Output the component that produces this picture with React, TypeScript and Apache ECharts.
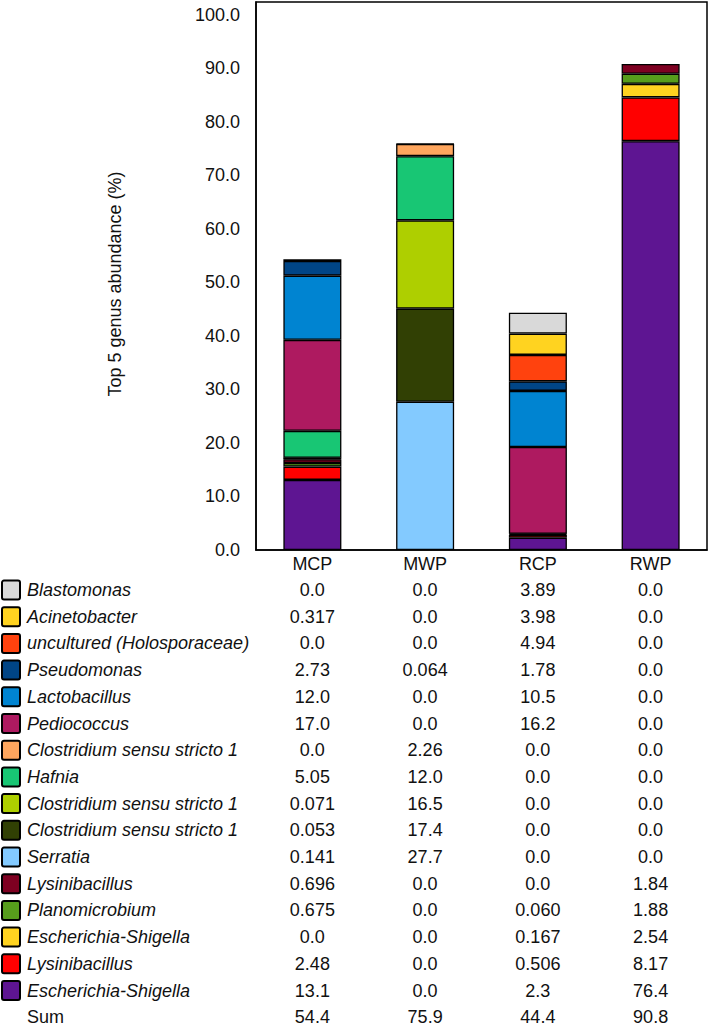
import React, { useEffect, useRef } from "react";
import * as echarts from "echarts";

const categories = ["MCP", "MWP", "RCP", "RWP"];

// Table order (top to bottom); bars stack in the reverse order
const genera = [
  "Blastomonas",
  "Acinetobacter",
  "uncultured (Holosporaceae)",
  "Pseudomonas",
  "Lactobacillus",
  "Pediococcus",
  "Clostridium sensu stricto 1",
  "Hafnia",
  "Clostridium sensu stricto 1",
  "Clostridium sensu stricto 1",
  "Serratia",
  "Lysinibacillus",
  "Planomicrobium",
  "Escherichia-Shigella",
  "Lysinibacillus",
  "Escherichia-Shigella",
];

const generaColors = [
  "#d9d9d9",
  "#ffd320",
  "#ff420e",
  "#004586",
  "#0084d1",
  "#ae1a60",
  "#ffa65e",
  "#18c674",
  "#aecf00",
  "#314004",
  "#83caff",
  "#7e0021",
  "#579d1c",
  "#ffd320",
  "#ff0000",
  "#5e1592",
];

const mcpValues = ["0.0", "0.317", "0.0", "2.73", "12.0", "17.0", "0.0", "5.05", "0.071", "0.053", "0.141", "0.696", "0.675", "0.0", "2.48", "13.1"];
const mwpValues = ["0.0", "0.0", "0.0", "0.064", "0.0", "0.0", "2.26", "12.0", "16.5", "17.4", "27.7", "0.0", "0.0", "0.0", "0.0", "0.0"];
const rcpValues = ["3.89", "3.98", "4.94", "1.78", "10.5", "16.2", "0.0", "0.0", "0.0", "0.0", "0.0", "0.0", "0.060", "0.167", "0.506", "2.3"];
const rwpValues = ["0.0", "0.0", "0.0", "0.0", "0.0", "0.0", "0.0", "0.0", "0.0", "0.0", "0.0", "1.84", "1.88", "2.54", "8.17", "76.4"];
const sums = ["54.4", "75.9", "44.4", "90.8"];

const yTicks = [0, 10, 20, 30, 40, 50, 60, 70, 80, 90, 100];

const FONT = "'Liberation Sans', Arial, sans-serif";
const FS = 18;

export default function App() {
  const ref = useRef<HTMLDivElement>(null);

  useEffect(() => {
    document.body.style.margin = "0";
    if (!ref.current) return;
    const chart = echarts.init(ref.current, undefined, { renderer: "svg" });
    const columns = [mcpValues, mwpValues, rcpValues, rwpValues];

    const order = genera.map((_, i) => genera.length - 1 - i);
    const series = order.map((gi) => ({
      type: "bar" as const,
      name: genera[gi],
      stack: "total",
      barWidth: 58,
      itemStyle: {
        color: generaColors[gi],
        borderColor: "#000",
        borderWidth: 1.3,
      },
      data: columns.map((col) => {
        const v = parseFloat(col[gi]);
        return v > 0 ? v : "-";
      }),
    }));

    chart.setOption({
      animation: false,
      backgroundColor: "#fff",
      grid: {
        left: 256,
        right: 2,
        top: 2,
        bottom: 480,
        show: true,
        borderColor: "#000",
        borderWidth: 1.5,
        backgroundColor: "transparent",
      },
      xAxis: {
        type: "category",
        data: categories,
        axisLine: { show: true, lineStyle: { color: "#000", width: 1.5 } },
        axisTick: { show: false },
        axisLabel: { color: "#111", fontFamily: FONT, fontSize: FS, margin: 5 },
      },
      yAxis: {
        type: "value",
        min: 0,
        max: 102.4,
        interval: 10,
        name: "Top 5 genus abundance (%)",
        nameLocation: "middle",
        nameGap: 132,
        nameTextStyle: { color: "#111", fontFamily: FONT, fontSize: FS, padding: [0, 16, 0, 0] },
        axisLine: { show: true, lineStyle: { color: "#000", width: 1.5 } },
        axisTick: { show: false },
        splitLine: { show: false },
        axisLabel: {
          color: "#111",
          fontFamily: FONT,
          fontSize: FS,
          margin: 16,
          showMaxLabel: false,
          formatter: (v: number) => (yTicks.includes(v) ? v.toFixed(1) : ""),
        },
      },
      series,
    });

    const xs = categories.map((c) => chart.convertToPixel({ xAxisIndex: 0 }, c) as number);
    const rowTop = 590;
    const rowStep = 26.7;
    const elements: any[] = [];
    genera.forEach((g, i) => {
      const y = rowTop + i * rowStep;
      elements.push({
        type: "rect",
        shape: { x: 2, y: y - 9.5, width: 18, height: 19, r: 2 },
        style: { fill: generaColors[i], stroke: "#000", lineWidth: 2 },
      });
      elements.push({
        type: "text",
        x: 27,
        y,
        style: {
          text: g,
          fill: "#111",
          font: `italic ${FS}px ${FONT}`,
          verticalAlign: "middle",
          align: "left",
        },
      });
      columns.forEach((col, ci) => {
        elements.push({
          type: "text",
          x: xs[ci],
          y,
          style: {
            text: col[i],
            fill: "#111",
            font: `${FS}px ${FONT}`,
            verticalAlign: "middle",
            align: "center",
          },
        });
      });
    });
    const sumY = rowTop + genera.length * rowStep;
    elements.push({
      type: "text",
      x: 27,
      y: sumY,
      style: { text: "Sum", fill: "#111", font: `${FS}px ${FONT}`, verticalAlign: "middle", align: "left" },
    });
    sums.forEach((s, ci) => {
      elements.push({
        type: "text",
        x: xs[ci],
        y: sumY,
        style: { text: s, fill: "#111", font: `${FS}px ${FONT}`, verticalAlign: "middle", align: "center" },
      });
    });
    chart.setOption({ graphic: { elements } });

    return () => chart.dispose();
  }, []);

  return <div ref={ref} style={{ width: 709, height: 1030 }} />;
}
